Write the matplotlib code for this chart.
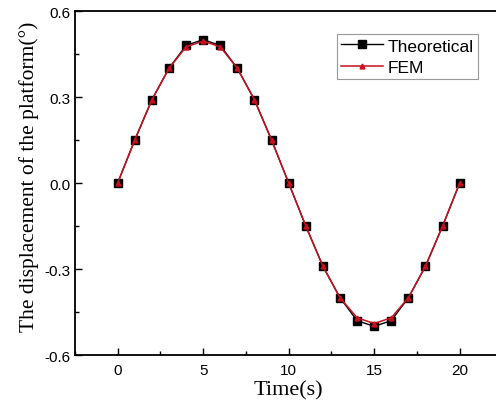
import matplotlib
matplotlib.use('Agg')
import matplotlib.pyplot as plt
from matplotlib.ticker import MultipleLocator

# time points (s)
time = [0, 1, 2, 3, 4, 5, 6, 7, 8, 9, 10, 11, 12, 13, 14, 15, 16, 17, 18, 19, 20]
# theoretical displacement (deg)
theoretical = [0.0, 0.15, 0.29, 0.40, 0.48, 0.50, 0.48, 0.40, 0.29, 0.15, 0.0,
               -0.15, -0.29, -0.40, -0.48, -0.50, -0.48, -0.40, -0.29, -0.15, 0.0]
# FEM displacement (deg)
fem = [0.0, 0.15, 0.29, 0.40, 0.475, 0.495, 0.475, 0.40, 0.29, 0.15, 0.0,
       -0.15, -0.29, -0.40, -0.47, -0.49, -0.47, -0.40, -0.29, -0.15, 0.0]

fig = plt.figure(figsize=(4.96, 4.14), dpi=100)
ax = fig.add_axes([0.151, 0.140, 0.862, 0.831])

ax.plot(time, theoretical, color='black', lw=1.0, marker='s', ms=5.5,
        mfc='black', mec='black', label='Theoretical')
ax.plot(time, fem, color='#c8101e', lw=1.1, marker='^', ms=3.5,
        mfc='#c8101e', mec='#c8101e', label='FEM')

ax.set_xlim(-2.5, 22.5)
ax.set_ylim(-0.6, 0.6)
ax.xaxis.set_major_locator(MultipleLocator(5))
ax.xaxis.set_minor_locator(MultipleLocator(2.5))
ax.yaxis.set_major_locator(MultipleLocator(0.3))
ax.yaxis.set_minor_locator(MultipleLocator(0.15))
ax.tick_params(which='both', direction='in', labelsize=11)
ax.tick_params(which='major', length=5, width=1)
ax.tick_params(which='minor', length=3, width=1)
ax.tick_params(axis='x', pad=6)
for lbl in ax.get_xticklabels() + ax.get_yticklabels():
    lbl.set_family('Liberation Sans')
ax.yaxis.set_major_formatter(plt.FuncFormatter(lambda v, p: '%.1f' % v))

for s in ax.spines.values():
    s.set_linewidth(1.3)

ax.set_xlabel('Time(s)', family='Liberation Serif', fontsize=16, labelpad=2)
ax.set_ylabel('The displacement of the platform(°)', family='Liberation Serif',
              fontsize=15.5)
ax.yaxis.set_label_coords(-0.085, 0.52)

leg = ax.legend(loc='upper left', bbox_to_anchor=(0.612, 0.933),
                prop={'family': 'Liberation Sans', 'size': 12.5},
                frameon=True, fancybox=False, borderpad=0.25, handlelength=2.4,
                handletextpad=0.3, labelspacing=0.35, borderaxespad=0)
leg.get_frame().set_edgecolor('#808080')
leg.get_frame().set_linewidth(0.8)

fig.savefig('out.png', dpi=100)
